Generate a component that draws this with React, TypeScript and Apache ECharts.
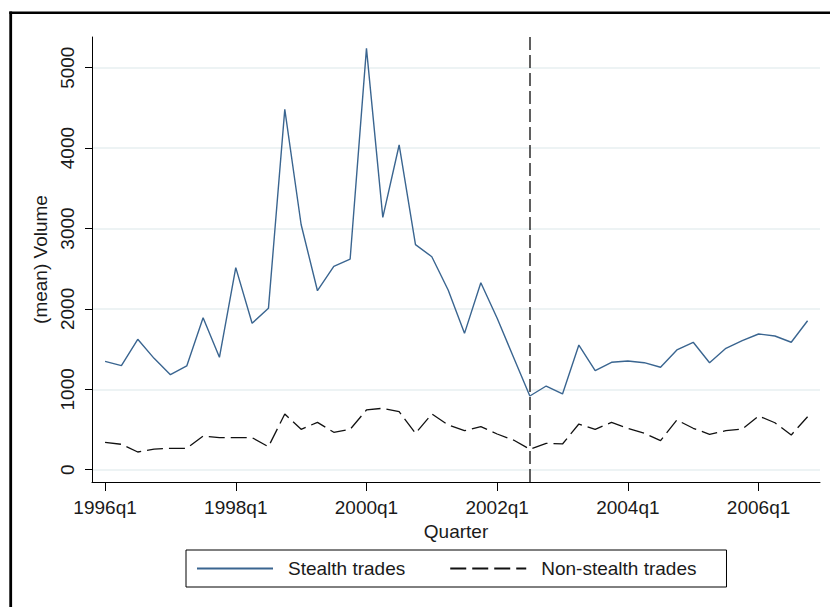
import React, { useEffect, useRef } from "react";
import * as echarts from "echarts";

const quarters = [
  "1996q1", "1996q2", "1996q3", "1996q4",
  "1997q1", "1997q2", "1997q3", "1997q4",
  "1998q1", "1998q2", "1998q3", "1998q4",
  "1999q1", "1999q2", "1999q3", "1999q4",
  "2000q1", "2000q2", "2000q3", "2000q4",
  "2001q1", "2001q2", "2001q3", "2001q4",
  "2002q1", "2002q2", "2002q3", "2002q4",
  "2003q1", "2003q2", "2003q3", "2003q4",
  "2004q1", "2004q2", "2004q3", "2004q4",
  "2005q1", "2005q2", "2005q3", "2005q4",
  "2006q1", "2006q2", "2006q3", "2006q4",
];

const stealthTrades = [
  1348, 1294, 1622, 1385, 1182, 1290, 1891, 1398, 2513, 1821,
  2007, 4482, 3050, 2226, 2530, 2620, 5241, 3139, 4039, 2800,
  2649, 2235, 1696, 2326, 1883, 1398, 917, 1041, 942, 1551,
  1232, 1336, 1352, 1331, 1274, 1489, 1585, 1331, 1510, 1605,
  1688, 1663, 1585, 1853,
];

const nonStealthTrades = [
  341, 316, 220, 257, 266, 266, 419, 398, 398, 398,
  286, 693, 502, 589, 465, 502, 743, 764, 722, 453,
  693, 556, 485, 535, 444, 369, 254, 328, 320, 568,
  502, 589, 515, 453, 361, 618, 515, 440, 485, 506,
  668, 584, 432, 659,
];

const xTickQuarters = ["1996q1", "1998q1", "2000q1", "2002q1", "2004q1", "2006q1"];
const yTickValues = [0, 1000, 2000, 3000, 4000, 5000];
const cutoffQuarter = "2002q3";

export default function App() {
  const ref = useRef<HTMLDivElement>(null);

  useEffect(() => {
    document.body.style.margin = "0";
    const chart = echarts.init(ref.current!, null, { renderer: "svg" });
    const font = "'Liberation Sans', Arial, sans-serif";
    const fs = 19;
    const xTicks = xTickQuarters.map((q) => quarters.indexOf(q));
    const cutoff = quarters.indexOf(cutoffQuarter);
    const textColor = "#1a1a1a";

    chart.setOption({
      animation: false,
      backgroundColor: "#ffffff",
      grid: { left: 92, right: 10, top: 37, bottom: 125, containLabel: false },
      xAxis: {
        type: "value",
        min: -0.8,
        max: 43.76,
        name: "Quarter",
        nameLocation: "middle",
        nameGap: 34,
        nameTextStyle: { fontFamily: font, fontSize: fs, color: textColor },
        axisLine: { onZero: false, lineStyle: { color: "#000", width: 1 } },
        axisTick: { show: true, customValues: xTicks, length: 9, lineStyle: { color: "#000" } },
        axisLabel: {
          customValues: xTicks,
          formatter: (v: number) => quarters[Math.round(v)] ?? "",
          margin: 16,
          fontFamily: font,
          fontSize: fs,
          color: textColor,
        },
        splitLine: { show: false },
      },
      yAxis: {
        type: "value",
        min: -153,
        max: 5382,
        name: "(mean) Volume",
        nameLocation: "middle",
        nameRotate: 90,
        nameGap: 38,
        nameTextStyle: { fontFamily: font, fontSize: fs, color: textColor },
        axisLine: { show: true, onZero: false, lineStyle: { color: "#000", width: 1 } },
        axisTick: { show: true, customValues: yTickValues, length: 7, lineStyle: { color: "#000" } },
        axisLabel: {
          customValues: yTickValues,
          formatter: (v: number) => String(Math.round(v)),
          rotate: 90,
          margin: 15,
          fontFamily: font,
          fontSize: fs,
          color: textColor,
        },
        splitLine: { show: true, lineStyle: { color: "#e7eff1", width: 1.5 } },
      },
      legend: {
        left: 186,
        top: 550,
        orient: "horizontal",
        selectedMode: false,
        borderColor: "#000",
        borderWidth: 1,
        padding: [9, 30, 9, 10],
        itemWidth: 76,
        itemHeight: 14,
        itemGap: 44,
        itemStyle: { opacity: 0 },
        textStyle: { fontFamily: font, fontSize: fs, color: textColor, padding: [0, 0, 0, 10] },
        data: ["Stealth trades", "Non-stealth trades"],
      },
      graphic: [
        {
          type: "line",
          shape: { x1: 10.7, y1: 11.5, x2: 10.7, y2: 607 },
          style: { stroke: "#000", lineWidth: 2.8 },
        },
        {
          type: "line",
          shape: { x1: 9.3, y1: 12.8, x2: 830, y2: 12.8 },
          style: { stroke: "#000", lineWidth: 2.6 },
        },
      ],
      series: [
        {
          type: "line",
          name: "Stealth trades",
          data: stealthTrades.map((v, i) => [i, v]),
          symbol: "none",
          lineStyle: { color: "#3a6590", width: 1.4 },
          itemStyle: { color: "#3a6590" },
          markLine: {
            silent: true,
            symbol: "none",
            label: { show: false },
            lineStyle: { color: "#2b2b2b", type: [13, 5], width: 1.5 },
            data: [{ xAxis: cutoff }],
          },
        },
        {
          type: "line",
          name: "Non-stealth trades",
          data: nonStealthTrades.map((v, i) => [i, v]),
          symbol: "none",
          lineStyle: { color: "#111", width: 1.3, type: [16, 6] },
          itemStyle: { color: "#111" },
        },
      ],
    });

    return () => chart.dispose();
  }, []);

  return (
    <div
      ref={ref}
      style={{ position: "fixed", left: 0, top: 0, width: 830, height: 607 }}
    />
  );
}
